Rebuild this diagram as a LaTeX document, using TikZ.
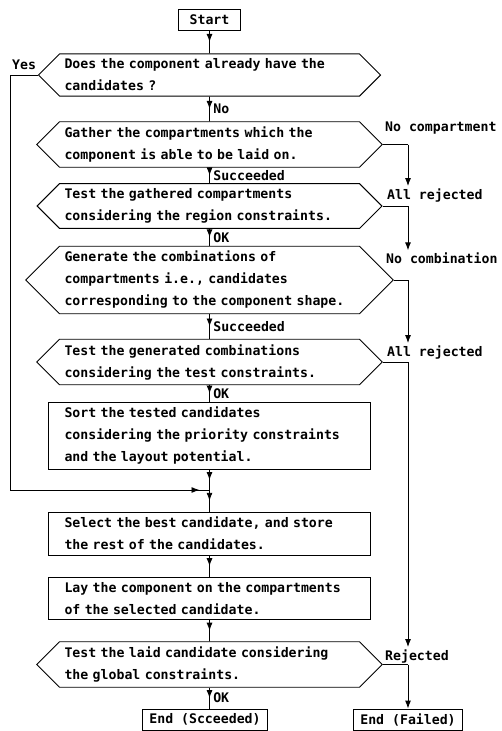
\documentclass[tikz,border=0pt]{standalone}
\usepackage{fontspec}
\setmonofont{DejaVu Sans Mono}
\usetikzlibrary{shapes.symbols, decorations.markings, arrows.meta}

\tikzset{
	every node/.style={font=\fontsize{13.2}{22}\selectfont\ttfamily\bfseries},
	flow/.style={line width=0.9pt},
	arr/.style={flow, postaction={decorate}, decoration={markings, mark=at position #1 with {\arrow{Latex[length=8pt,width=6pt]}}}},
	arr/.default=0.5,
	tip/.style={flow, -{Latex[length=8pt,width=6pt]}},
	process/.style={draw, flow, rectangle, text width=290pt, align=left, inner xsep=16pt, inner ysep=5pt},
	decision/.style={draw, flow, signal, signal to=west and east, signal pointer angle=90, text width=290pt, align=left, inner xsep=5pt, inner ysep=5pt},
	term/.style={draw, flow, rectangle, minimum height=21pt, inner xsep=7pt, inner ysep=3pt},
	side/.style={anchor=west, inner sep=2pt}
}

\begin{document}
\begin{tikzpicture}[x=1pt, y=-1pt]
\useasboundingbox (0,0) rectangle (502,731);

\node[term, minimum width=62pt] (start) at (209.5,19.5) {Start};
\node[decision] (d1) at (209.5,75) {Does the component already have the\\candidates ?};
\node[decision] (d2) at (209.5,144.5) {Gather the compartments which the\\component is able to be laid on.};
\node[decision] (d3) at (209.5,206) {Test the gathered compartments\\considering the region constraints.};
\node[decision] (d4) at (209.5,280) {Generate the combinations of\\compartments i.e., candidates\\corresponding to the component shape.};
\node[decision] (d5) at (209.5,362) {Test the generated combinations\\considering the test constraints.};
\node[process] (sort) at (209.5,436) {Sort the tested candidates\\considering the priority constraints\\and the layout potential.};
\node[process] (sel) at (209.5,533.5) {Select the best candidate, and store\\the rest of the candidates.};
\node[process] (lay) at (209.5,598.5) {Lay the component on the compartments\\of the selected candidate.};
\node[decision] (d6) at (209.5,664.5) {Test the laid candidate considering\\the global constraints.};
\node[term] (ok) at (205,719.5) {End (Scceeded)};
\node[term] (fail) at (408,719.5) {End (Failed)};

% labels of the side branches
\node[side] (yes) at (10,65) {Yes};
\node[side] (nocomp) at (383,128) {No compartment};
\node[side] (rej1) at (385,195) {All rejected};
\node[side] (nocomb) at (384,258) {No combination};
\node[side] (rej2) at (385,352) {All rejected};
\node[side] (rej3) at (383,656) {Rejected};

\coordinate (m) at (209.5,490);
\coordinate (yt) at (10,75);
\coordinate (yb) at (10,490);
\coordinate (j2) at (d2.east -| fail);
\coordinate (j3) at (d3.east -| fail);
\coordinate (j4) at (d4.east -| fail);
\coordinate (j5) at (d5.east -| fail);
\coordinate (j6) at (d6.east -| fail);

% main line
\draw	(start) edge[arr] (d1)
		(d1) edge[arr] node[right]{No} (d2)
		(d2) edge[arr] node[right]{Succeeded} (d3)
		(d3) edge[arr] node[right]{OK} (d4)
		(d4) edge[arr] node[right]{Succeeded} (d5)
		(d5) edge[arr] node[right]{OK} (sort)
		(sort) edge[arr] (m)
		(m) edge[arr] (sel)
		(sel) edge[arr] (lay)
		(lay) edge[arr] (d6)
		(d6.south) edge[arr] node[right]{OK} (d6.south |- ok.north);

% yes branch
\draw[flow] (d1.west) -- (yt) -- (yb);
\draw[arr=0.95] (yb) -- (m);

% failure branch
\draw[flow] (d2.east) -- (j2);
\draw[tip] (j2) -- (j2 |- rej1.north);
\draw[flow] (d3.east) -- (j3);
\draw[tip] (j3) -- (j3 |- nocomb.north);
\draw[flow] (d4.east) -- (j4);
\draw[tip] (j4) -- (j4 |- rej2.north);
\draw[flow] (d5.east) -- (j5);
\draw[tip] (j5) -- (j5 |- rej3.north);
\draw[flow] (d6.east) -- (j6);
\draw[tip] (j6) -- (fail);

\end{tikzpicture}
\end{document}
